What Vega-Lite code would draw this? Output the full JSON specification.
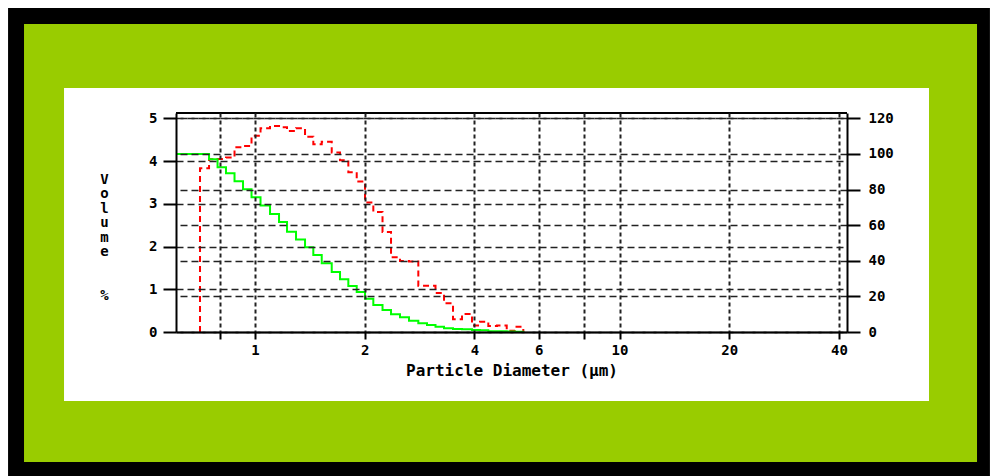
{
  "$schema": "https://vega.github.io/schema/vega-lite/v6.json",
  "width": 671,
  "height": 219,
  "autosize": {"type": "none"},
  "padding": {"left": 176, "top": 113, "right": 145, "bottom": 144},
  "background": "white",
  "config": {
    "view": {"fill": "white", "stroke": "black", "strokeWidth": 2},
    "axis": {
      "labelFont": "DejaVu Sans Mono",
      "labelFontWeight": "bold",
      "labelFontSize": 14,
      "labelColor": "black",
      "titleFont": "DejaVu Sans Mono",
      "titleFontWeight": "bold",
      "titleColor": "black",
      "domainColor": "black",
      "domainWidth": 2,
      "tickColor": "black",
      "tickWidth": 2,
      "gridColor": "#222222",
      "gridOpacity": 1
    }
  },
  "datasets": {
    "frame": [{"part": "frame"}],
    "red": [
      {"i": 0, "d": 0.7064, "v": 0},
      {"i": 1, "d": 0.7064, "v": 3.83},
      {"i": 2, "d": 0.7479, "v": 4.04},
      {"i": 3, "d": 0.7892, "v": 4.05},
      {"i": 4, "d": 0.8324, "v": 4.08},
      {"i": 5, "d": 0.8785, "v": 4.32},
      {"i": 6, "d": 0.927, "v": 4.35},
      {"i": 7, "d": 0.9781, "v": 4.59},
      {"i": 8, "d": 1.0353, "v": 4.77},
      {"i": 9, "d": 1.0994, "v": 4.82},
      {"i": 10, "d": 1.1637, "v": 4.79},
      {"i": 11, "d": 1.224, "v": 4.7},
      {"i": 12, "d": 1.2956, "v": 4.77},
      {"i": 13, "d": 1.3715, "v": 4.57},
      {"i": 14, "d": 1.4452, "v": 4.39},
      {"i": 15, "d": 1.524, "v": 4.45},
      {"i": 16, "d": 1.6234, "v": 4.2},
      {"i": 17, "d": 1.7108, "v": 4.02},
      {"i": 18, "d": 1.8029, "v": 3.74},
      {"i": 19, "d": 1.901, "v": 3.52},
      {"i": 20, "d": 2.0035, "v": 3.03},
      {"i": 21, "d": 2.1113, "v": 2.81},
      {"i": 22, "d": 2.2376, "v": 2.34},
      {"i": 23, "d": 2.3611, "v": 1.75},
      {"i": 24, "d": 2.499, "v": 1.66},
      {"i": 25, "d": 2.6453, "v": 1.65},
      {"i": 26, "d": 2.8053, "v": 1.08},
      {"i": 27, "d": 2.9638, "v": 1.08},
      {"i": 28, "d": 3.1272, "v": 0.91},
      {"i": 29, "d": 3.3, "v": 0.67},
      {"i": 30, "d": 3.493, "v": 0.3},
      {"i": 31, "d": 3.6973, "v": 0.42},
      {"i": 32, "d": 3.9384, "v": 0.15},
      {"i": 33, "d": 4.1425, "v": 0.24},
      {"i": 34, "d": 4.3655, "v": 0.14},
      {"i": 35, "d": 4.6121, "v": 0.15},
      {"i": 36, "d": 4.9036, "v": 0.03},
      {"i": 37, "d": 5.1675, "v": 0.12},
      {"i": 38, "d": 5.4455, "v": 0}
    ],
    "green": [
      {"i": 0, "d": 0.607, "v": 100},
      {"i": 1, "d": 0.7479, "v": 97.0},
      {"i": 2, "d": 0.7892, "v": 92.5},
      {"i": 3, "d": 0.8324, "v": 89.1},
      {"i": 4, "d": 0.8785, "v": 84.6},
      {"i": 5, "d": 0.927, "v": 80.1},
      {"i": 6, "d": 0.9781, "v": 75.6},
      {"i": 7, "d": 1.0353, "v": 71.1},
      {"i": 8, "d": 1.0994, "v": 66.3},
      {"i": 9, "d": 1.1637, "v": 61.8},
      {"i": 10, "d": 1.224, "v": 56.3},
      {"i": 11, "d": 1.2956, "v": 52.0},
      {"i": 12, "d": 1.3715, "v": 47.6},
      {"i": 13, "d": 1.4452, "v": 43.2},
      {"i": 14, "d": 1.524, "v": 38.6},
      {"i": 15, "d": 1.6234, "v": 33.7},
      {"i": 16, "d": 1.7108, "v": 29.6},
      {"i": 17, "d": 1.8029, "v": 25.8},
      {"i": 18, "d": 1.901, "v": 22.5},
      {"i": 19, "d": 2.0035, "v": 18.7},
      {"i": 20, "d": 2.1113, "v": 15.2},
      {"i": 21, "d": 2.2376, "v": 12.4},
      {"i": 22, "d": 2.3611, "v": 9.9},
      {"i": 23, "d": 2.499, "v": 8.3},
      {"i": 24, "d": 2.6453, "v": 6.3},
      {"i": 25, "d": 2.8053, "v": 4.9},
      {"i": 26, "d": 2.9638, "v": 3.9},
      {"i": 27, "d": 3.1272, "v": 3.0},
      {"i": 28, "d": 3.3, "v": 2.1},
      {"i": 29, "d": 3.493, "v": 1.7},
      {"i": 30, "d": 3.6973, "v": 1.6},
      {"i": 31, "d": 3.9384, "v": 1.1},
      {"i": 32, "d": 4.1425, "v": 1.0},
      {"i": 33, "d": 4.3655, "v": 0.4},
      {"i": 34, "d": 4.6121, "v": 0.4},
      {"i": 35, "d": 4.9036, "v": 0.3},
      {"i": 36, "d": 5.1675, "v": 0.2},
      {"i": 37, "d": 5.4455, "v": 0}
    ]
  },
  "layer": [
    {
      "layer": [
        {
          "data": {"name": "frame"},
          "mark": {"type": "rect", "color": "black"},
          "encoding": {
            "x": {"datum": 0.2101, "type": "quantitative", "scale": {"type": "log", "domain": [0.607, 42.08], "nice": false}},
            "x2": {"datum": 103.8},
            "y": {"datum": 7.581, "type": "quantitative", "scale": {"domain": [0, 5.124], "nice": false, "zero": false}},
            "y2": {"datum": -3.369}
          }
        },
        {
          "data": {"name": "frame"},
          "mark": {"type": "rect", "color": "#99cc00"},
          "encoding": {
            "x": {"datum": 0.2324, "type": "quantitative", "scale": {"type": "log", "domain": [0.607, 42.08], "nice": false}},
            "x2": {"datum": 95.67},
            "y": {"datum": 7.206, "type": "quantitative", "scale": {"domain": [0, 5.124], "nice": false, "zero": false}},
            "y2": {"datum": -3.042}
          }
        },
        {
          "data": {"name": "frame"},
          "mark": {"type": "rect", "color": "white"},
          "encoding": {
            "x": {"datum": 0.2992, "type": "quantitative", "scale": {"type": "log", "domain": [0.607, 42.08], "nice": false}},
            "x2": {"datum": 70.64},
            "y": {"datum": 5.709, "type": "quantitative", "scale": {"domain": [0, 5.124], "nice": false, "zero": false}},
            "y2": {"datum": -1.614}
          }
        },
        {
          "data": {"name": "frame"},
          "mark": {"type": "rule", "color": "black", "strokeWidth": 2},
          "encoding": {
            "y": {"datum": 5.124, "type": "quantitative", "scale": {"domain": [0, 5.124], "nice": false, "zero": false}}
          }
        },
        {
          "data": {"name": "red"},
          "mark": {"type": "line", "color": "#ff0000", "strokeWidth": 2, "strokeDash": [6, 4], "interpolate": "step-after"},
          "encoding": {
            "x": {
              "field": "d", "type": "quantitative",
              "scale": {"type": "log", "domain": [0.607, 42.08], "nice": false},
              "axis": {
                "zindex": 1,
                "values": [0.8, 1, 2, 4, 6, 8, 10, 20, 40],
                "format": "~g",
                "labelExpr": "datum.value == 0.8 || datum.value == 8 ? '' : datum.label",
                "grid": true,
                "gridDash": [4, 3],
                "gridWidth": 2,
                "tickSize": 7,
                "labelPadding": 4,
                "labelFlush": false,
                "labelOverlap": false,
                "title": "Particle Diameter (µm)",
                "titleFontSize": 16,
                "titlePadding": 5
              }
            },
            "y": {
              "field": "v", "type": "quantitative",
              "scale": {"domain": [0, 5.124], "nice": false, "zero": false},
              "axis": {
                "zindex": 1,
                "orient": "left",
                "values": [0, 1, 2, 3, 4, 5],
                "grid": true,
                "gridDash": [7, 4],
                "gridWidth": 1.5,
                "tickSize": 13,
                "labelPadding": 6,
                "title": ["V", "o", "l", "u", "m", "e", "\u2800", "\u2800", "%"],
                "titleAngle": 0,
                "titleFontSize": 14,
                "titleLineHeight": 14.5,
                "titleAlign": "center",
                "titleBaseline": "top",
                "titleX": -72,
                "titleY": 59
              }
            },
            "order": {"field": "i", "type": "quantitative"}
          }
        }
      ]
    },
    {
      "data": {"name": "green"},
      "mark": {"type": "line", "color": "#00ff00", "strokeWidth": 2, "interpolate": "step-after"},
      "encoding": {
        "x": {"field": "d", "type": "quantitative", "scale": {"type": "log", "domain": [0.607, 42.08], "nice": false}},
        "y": {
          "field": "v", "type": "quantitative",
          "scale": {"domain": [0, 122.98], "nice": false, "zero": false},
          "axis": {
            "zindex": 1,
            "orient": "right",
            "values": [0, 20, 40, 60, 80, 100, 120],
            "grid": true,
            "gridDash": [7, 4],
            "gridWidth": 1.5,
            "tickSize": 13,
            "labelPadding": 8,
            "title": null
          }
        },
        "order": {"field": "i", "type": "quantitative"}
      }
    }
  ],
  "resolve": {"scale": {"y": "independent"}}
}
